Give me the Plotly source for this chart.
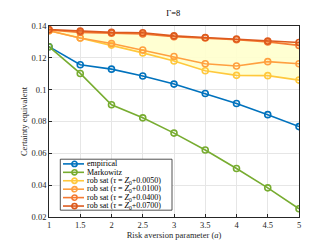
import plotly.graph_objects as go

x = [1, 1.5, 2, 2.5, 3, 3.5, 4, 4.5, 5]
empirical = [0.127, 0.1157, 0.1129, 0.1086, 0.1035, 0.0976, 0.0913, 0.0843, 0.0768]
markowitz = [0.127, 0.1102, 0.0905, 0.0823, 0.0727, 0.0621, 0.0505, 0.0383, 0.0252]
rob_0050 = [0.137, 0.1325, 0.128, 0.1231, 0.118, 0.1119, 0.109, 0.1088, 0.106]
rob_0100 = [0.137, 0.1325, 0.129, 0.1249, 0.1208, 0.1163, 0.1149, 0.1176, 0.1163]
rob_0400 = [0.1375, 0.136, 0.1355, 0.135, 0.1333, 0.1325, 0.1314, 0.130, 0.1278]
rob_0700 = [0.1378, 0.1368, 0.136, 0.1358, 0.1338, 0.1328, 0.1318, 0.1305, 0.1296]

xticks = [1, 1.5, 2, 2.5, 3, 3.5, 4, 4.5, 5]
yticks = [0.02, 0.04, 0.06, 0.08, 0.1, 0.12, 0.14]
ytick_labels = ["0.02", "0.04", "0.06", "0.08", "0.1", "0.12", "0.14"]

font = "Liberation Serif"
fig = go.Figure()

# shaded band between lowest and highest robust series
fig.add_trace(go.Scatter(x=x, y=rob_0050, mode="lines", line=dict(width=0),
                         showlegend=False, hoverinfo="skip"))
fig.add_trace(go.Scatter(x=x, y=rob_0700, mode="lines", line=dict(width=0),
                         fill="tonexty", fillcolor="rgba(255,255,205,0.9)",
                         showlegend=False, hoverinfo="skip"))

eq = "&nbsp;=&nbsp;"
series = [
    ("empirical", empirical, "#0072BD"),
    ("Markowitz", markowitz, "#77AC30"),
    ("rob sat (<i>τ</i>" + eq + "<i>Z</i><sub>0</sub>+0.0050)", rob_0050, "#FFC83C"),
    ("rob sat (<i>τ</i>" + eq + "<i>Z</i><sub>0</sub>+0.0100)", rob_0100, "#FFA040"),
    ("rob sat (<i>τ</i>" + eq + "<i>Z</i><sub>0</sub>+0.0400)", rob_0400, "#F57A32"),
    ("rob sat (<i>τ</i>" + eq + "<i>Z</i><sub>0</sub>+0.0700)", rob_0700, "#DC5A1E"),
]
for name, ys, c in series:
    fig.add_trace(go.Scatter(x=x, y=ys, mode="lines+markers", name=name,
                             showlegend=False,
                             line=dict(color=c, width=1.6),
                             marker=dict(symbol="circle-open", size=6, color=c,
                                         line=dict(width=1.6, color=c))))

# custom compact legend (paper coordinates)
shapes = []
annotations = []
L_W, L_H = 250.0, 196.0  # plot area size in px
def px2x(px):
    return (px - 41) / L_W
def py2y(py):
    return (214 - py) / L_H

shapes.append(dict(type="rect", xref="paper", yref="paper",
                   x0=px2x(52.3), x1=px2x(164), y0=py2y(207), y1=py2y(154.7),
                   fillcolor="white", line=dict(color="#262626", width=0.8), layer="above"))
for i, (name, ys, c) in enumerate(series):
    yy = py2y(159.5 + 8.65 * i)
    shapes.append(dict(type="line", xref="paper", yref="paper",
                       x0=px2x(55), x1=px2x(76), y0=yy, y1=yy,
                       line=dict(color=c, width=1.6), layer="above"))
    shapes.append(dict(type="circle", xref="paper", yref="paper",
                       xsizemode="pixel", ysizemode="pixel",
                       xanchor=px2x(66.5), yanchor=yy,
                       x0=-2.6, x1=2.6, y0=-2.6, y1=2.6,
                       fillcolor="rgba(0,0,0,0)",
                       line=dict(color=c, width=1.6), layer="above"))
    annotations.append(dict(xref="paper", yref="paper", x=px2x(77.2), y=yy,
                            xanchor="left", yanchor="middle", showarrow=False,
                            text=name, font=dict(family=font, size=8, color="#000")))

axis_common = dict(showgrid=True, gridcolor="#E6E6E6", gridwidth=1,
                   showline=True, linecolor="#262626", linewidth=0.8, mirror=True,
                   ticks="inside", ticklen=3, tickcolor="#262626",
                   tickfont=dict(family=font, size=8.5, color="#262626"), zeroline=False)

fig.update_layout(
    width=321, height=241,
    margin=dict(l=41, r=30, t=18, b=27),
    paper_bgcolor="white", plot_bgcolor="white",
    title=dict(text="Γ=8", x=0.515, xanchor="center", y=0.99, yanchor="top",
               font=dict(family=font, size=8.5, color="#000")),
    xaxis=dict(range=[1, 5], tickvals=xticks, ticktext=[str(t) for t in xticks],
               title=dict(text="Risk aversion parameter (<i>a</i>)", standoff=1,
                          font=dict(family=font, size=8.5, color="#262626")),
               **axis_common),
    yaxis=dict(range=[0.02, 0.14], tickvals=yticks, ticktext=ytick_labels,
               title=dict(text="Certainty equivalent", standoff=2,
                          font=dict(family=font, size=8.5, color="#262626")),
               **axis_common),
    shapes=shapes,
    annotations=annotations,
    showlegend=False,
)

fig.write_html("out.html")
